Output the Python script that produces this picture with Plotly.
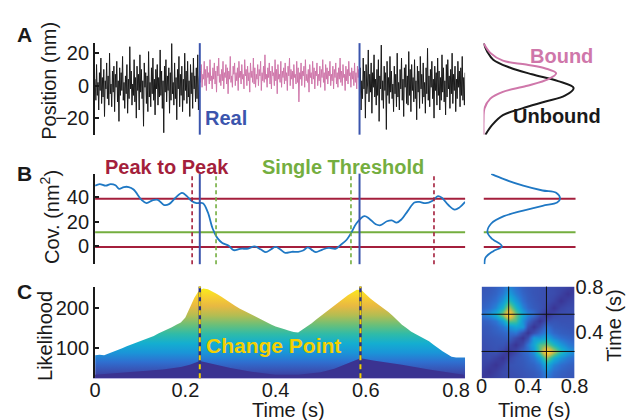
import plotly.graph_objects as go

W, H = 637, 420
FONT = "Liberation Sans, Arial, Helvetica, sans-serif"

# ---------------- Panel A: position trace (nm), sampled every pos_dt seconds
pos_dt = 0.82 / 512
pos_unbound_1 = [4, -9, 13, -6, 2, -15, 8, -3, 17, -11, 5, -7, 10, -19, 3, -2, 14, -8, 6, -12,
                 20, -5, 1, -13, 9, -4, 12, -16, 7, -1, 15, -10, 3, -22, 11, -6, 8, -3, 18, -9,
                 2, -14, 6, -5, 13, -17, 4, -8, 24, -2, 9, -12, 1, -6, 16, -10, 5, -20, 12, -3,
                 7, -15, 19, -4, 10, -8, 3, -25, 14, -1, 8, -11, 6, -16, 21, -7, 2, -13, 11, -5,
                 17, -9, 4, -18, 10, -2, 13, -12, 5, -7, 22, -6, 9, -14, 3, -29, 12, -4, 16, -10,
                 6, -3, 11, -17, 8, -9, 26, -5, 2, -12, 14, -8, 5, -21, 10, -2, 18, -13, 7, -6,
                 12, -16, 4, -9, 20, -3, 9, -11, 15, -7, 3, -19, 13, -5, 8, -14, 17, -2, 6, -10,
                 11, -8, 19, -15, 4]
pos_bound = [9, 2, 13, -1, 7, 4, 15, 0, 10, -3, 12, 5, 8, 1, 16, 3, 6, -2, 11, 4,
             14, 1, 9, -4, 12, 6, 17, 2, 7, 0, 10, 3, 15, -2, 8, 5, 13, 1, 11, -5,
             9, 4, 18, 2, 6, -1, 12, 7, 14, 0, 8, 3, 11, -3, 15, 5, 9, 1, 13, 4,
             7, -2, 16, 6, 10, 0, 12, 3, 8, -4, 14, 5, 9, 2, 17, 1, 11, -1, 7, 4,
             13, 0, 10, 6, 15, -3, 8, 3, 12, 2, 19, 4, 7, -1, 11, 5, 14, 1, 9, -2,
             12, 6, 8, 0, 16, 3, 10, -5, 13, 4, 7, 2, 15, -1, 9, 5, 11, 1, 14, 3,
             8, -3, 12, 6, 17, 0, 10, 4, 9, -2, 13, 5, 7, 1, 15, 2, 11, -10, 8, 4,
             14, 0, 9, 6, 12, -1, 16, 3, 7, 2, 10, -4, 13, 5, 8, 1, 15, 4, 11, -2,
             9, 6, 14, 0, 7, 3, 12, -1, 10, 5, 16, 2, 8, -3, 13, 4, 11, 1, 9, 6,
             15, 0, 7, 3, 12, -2, 10, 5, 14, 1, 8, -1, 11, 4, 17, 2, 9, 0, 13, 5,
             7, -3, 12, 3, 10, 1, 15, 6, 8, -1, 11, 4, 9, 0, 14, 2, 8, -2, 12, 5, 10]
pos_unbound_2 = [-6, 11, -15, 3, -8, 17, -2, 9, -20, 13, -5, 1, 22, -10, 7, -4, 14, -17, 8, -1,
                 19, -7, 4, -12, 10, -6, 16, -22, 6, -2, 25, -9, 3, -14, 12, -3, 8, -27, 15, -6,
                 5, -11, 18, -4, 9, -8, 1, -16, 12, -5, 7, -13, 20, -7, 2, -15, 10, -2, 17, -9,
                 4, -19, 11, -1, 13, -11, 6, -12, 21, -6, 10, -16, 13, -3, 5, -10, 16, -8, 3, -21,
                 12, -4, 9, -14, 18, -2, 7, -11, 14, -7, 2, -17, 11, -5, 23, -9, 6, -13, 10, -1,
                 15, -8, 4, -20, 12, -3, 8, -12, 17, -6, 9, -15, 5, -9, 19, -4, 11, -10, 3, -18,
                 13, -7, 16, -2, 6, -14, 10, -5, 20, -11, 7, -3, 12, -16, 4, -8, 15, -1, 9, -13,
                 11, -6, 18, -9, 5, -12, 8]
real_change_times = [0.232, 0.586]
pos_ticks = [-20, 0, 20]

# position distributions (right of panel A)
unbound_pos = [26.2, 20.8, 16.0, 11.2, 7.0, 2.8, -1.4, -6.2, -9.8, -14.0, -18.2, -24.2, -30.2]
unbound_dens = [0, 4, 10, 27, 50, 77, 93, 84, 64, 40, 20, 9, 2]
bound_pos = [26.2, 20.2, 15.4, 13.0, 10.6, 7.6, 4.0, -0.2, -3.8, -8.0, -14.0, -21.8, -30.2]
bound_dens = [0, 7, 20, 44, 64, 75, 67, 44, 20, 7, 1, 0, 0]

# ---------------- Panel B: covariance
cov_t = [0, 0.0101, 0.0236, 0.0343, 0.0451, 0.0530, 0.0638, 0.0745, 0.0852, 0.1030, 0.1138,
         0.1282, 0.1389, 0.1531, 0.1638, 0.1782, 0.1926, 0.2033, 0.2140, 0.2247, 0.2389, 0.2497,
         0.2604, 0.2711, 0.2819, 0.2962, 0.3070, 0.3213, 0.3392, 0.3535, 0.3677, 0.3785, 0.3892,
         0.3999, 0.4106, 0.4214, 0.4358, 0.4501, 0.4609, 0.4716, 0.4823, 0.4894, 0.5038, 0.5180,
         0.5323, 0.5431, 0.5575, 0.5682, 0.5789, 0.5968, 0.6075, 0.6219, 0.6326, 0.6468, 0.6575,
         0.6682, 0.6790, 0.6934, 0.7077, 0.7185, 0.7326, 0.7470, 0.7599, 0.7685, 0.7829, 0.7970,
         0.8078, 0.8200]
cov_val = [48.9, 50.2, 48.9, 50.2, 49.2, 46.3, 47.8, 47.8, 45.8, 37.4, 34.8,
           37.2, 37.4, 33.3, 34.0, 39.2, 43.1, 40.5, 36.6, 34.8, 34.8, 27.5,
           14.4, 6.6, 2.7, 0.5, -3.1, -2.0, -1.8, 0.0, -2.6, -4.7, -2.6,
           -0.5, -2.6, -5.2, -4.4, -4.4, -3.4, -0.8, -3.4, -4.7, -2.6, -1.3,
           -2.0, 0.8, 5.3, 11.3, 18.4, 24.3, 22.3, 17.8, 17.0, 20.2, 20.9,
           19.1, 21.7, 28.8, 35.3, 35.8, 34.8, 36.6, 40.5, 39.2, 33.3, 29.6,
           31.4, 35.8]
peak_levels = [38.4, -0.5]
single_threshold = 11.3
peak_cross_times = [0.215, 0.751]
threshold_cross_times = [0.268, 0.567]
cov_ticks = [0, 20, 40]

hist_cov = [58.4, 54.1, 48.9, 45.0, 43.1, 38.4, 35.3, 32.7, 28.8, 24.3, 18.4, 11.8, 6.6, 0.0, -3.9, -9.1, -14.4]
hist_count = [8, 21, 41, 61, 75, 79, 76, 61, 41, 21, 8, 4, 8, 19, 10, 2, 1]

# ---------------- Panel C: likelihood
lik_t = [i / 100 for i in range(83)]
lik_total = [82, 83, 82, 86, 90, 95, 99, 104, 108, 112, 117, 121, 126, 130, 136, 141, 145, 152, 158, 164,
             176, 200, 226, 244, 249, 247, 242, 235, 228, 220, 212, 206, 199, 193, 187, 181, 175, 169, 165, 159,
             154, 151, 147, 143, 140, 139, 146, 153, 162, 171, 180, 189, 197, 206, 215, 224, 232, 239, 246, 245,
             234, 224, 215, 207, 198, 190, 180, 168, 158, 150, 141, 135, 129, 124, 117, 108, 99, 92, 85, 78,
             76, 76, 76]
lik_low_t = [0, 0.05, 0.1, 0.15, 0.19, 0.21, 0.232, 0.26, 0.3, 0.35, 0.4, 0.45, 0.5, 0.53, 0.56, 0.588,
             0.62, 0.68, 0.74, 0.8, 0.817]
lik_low = [33, 37, 41, 46, 52, 58, 67, 60, 50, 40, 33, 33, 39, 48, 62, 74, 68, 58, 46, 36, 33]
change_point_times = [0.232, 0.588]
lik_ticks = [100, 200]
time_ticks = [0, 0.2, 0.4, 0.6, 0.8]

# change-point likelihood map (symmetric), triangle read by eye
hm_grid = [0, 0.06, 0.12, 0.18, 0.233, 0.29, 0.35, 0.40, 0.45, 0.50, 0.558, 0.62, 0.68, 0.74, 0.8]
hm_diag = 0.02
hm_tri = [
    [],
    [0.05],
    [0.07, 0.05],
    [0.08, 0.09, 0.06],
    [0.09, 0.10, 0.11, 0.07],
    [0.10, 0.11, 0.12, 0.12, 0.08],
    [0.11, 0.12, 0.13, 0.14, 0.16, 0.09],
    [0.12, 0.13, 0.15, 0.17, 0.20, 0.22, 0.10],
    [0.13, 0.14, 0.17, 0.22, 0.30, 0.36, 0.32, 0.10],
    [0.15, 0.17, 0.22, 0.34, 0.60, 0.55, 0.30, 0.18, 0.09],
    [0.22, 0.28, 0.40, 0.65, 1.00, 0.62, 0.38, 0.26, 0.20, 0.10],
    [0.16, 0.19, 0.26, 0.42, 0.72, 0.45, 0.26, 0.18, 0.14, 0.12, 0.08],
    [0.14, 0.16, 0.20, 0.30, 0.48, 0.32, 0.20, 0.15, 0.13, 0.11, 0.10, 0.07],
    [0.13, 0.14, 0.17, 0.23, 0.34, 0.24, 0.17, 0.14, 0.12, 0.11, 0.10, 0.09, 0.06],
    [0.12, 0.13, 0.15, 0.19, 0.26, 0.20, 0.15, 0.13, 0.12, 0.11, 0.10, 0.09, 0.08, 0.06],
]
hm_change = [0.233, 0.558]
hm_ticks_x = [0, 0.4, 0.8]
hm_ticks_y = [0.4, 0.8]

# ---------------- styles
BLACK = "#1a1a1a"
PINK = "#cf77aa"
REAL = "#3b55ad"
RED = "#a41f3c"
GREEN = "#74ae3f"
COVBLUE = "#1f78c4"
GOLD = "#f5d000"
NAVY = "#2c3280"
PARULA = [[0.0, "#3a2f8f"], [0.1, "#3a4fb0"], [0.2, "#2f6fd0"], [0.3, "#1a95d8"],
          [0.4, "#14aed0"], [0.5, "#2fbba8"], [0.6, "#6cbf78"], [0.7, "#b4bd52"],
          [0.8, "#e8b942"], [0.9, "#f8d030"], [1.0, "#f8f018"]]


def fx(px):
    return px / W


def fy(py):
    return 1 - py / H


fig = go.Figure()

# Panel A traces
n1, n2 = len(pos_unbound_1), len(pos_bound)
position = pos_unbound_1 + pos_bound + pos_unbound_2
t_pos = [i * pos_dt for i in range(len(position))]
fig.add_trace(go.Scatter(x=t_pos[:n1 + 1], y=position[:n1 + 1], mode="lines",
                         line=dict(color=BLACK, width=1), xaxis="x", yaxis="y"))
fig.add_trace(go.Scatter(x=t_pos[n1 + n2:], y=position[n1 + n2:], mode="lines",
                         line=dict(color=BLACK, width=1), xaxis="x", yaxis="y"))
fig.add_trace(go.Scatter(x=t_pos[n1:n1 + n2 + 1], y=position[n1:n1 + n2 + 1], mode="lines",
                         line=dict(color=PINK, width=1), xaxis="x", yaxis="y"))
fig.add_trace(go.Scatter(x=unbound_dens, y=unbound_pos, mode="lines", line_shape="spline",
                         line=dict(color=BLACK, width=2), xaxis="x2", yaxis="y2"))
fig.add_trace(go.Scatter(x=bound_dens, y=bound_pos, mode="lines", line_shape="spline",
                         line=dict(color=PINK, width=2), xaxis="x2", yaxis="y2"))

# Panel B traces
fig.add_trace(go.Scatter(x=cov_t, y=cov_val, mode="lines", line_shape="spline",
                         line=dict(color=COVBLUE, width=1.8), xaxis="x3", yaxis="y3"))
fig.add_trace(go.Scatter(x=hist_count, y=hist_cov, mode="lines", line_shape="spline",
                         line=dict(color=COVBLUE, width=1.8), xaxis="x4", yaxis="y4"))

# Panel C traces
fig.add_trace(go.Scatter(x=lik_t, y=lik_total, mode="lines", fill="tozeroy",
                         line=dict(width=0, color="rgba(0,0,0,0)"),
                         fillgradient=dict(type="vertical", colorscale=PARULA, start=24, stop=252),
                         xaxis="x5", yaxis="y5"))
fig.add_trace(go.Scatter(x=lik_low_t, y=lik_low, mode="lines", fill="tozeroy",
                         line=dict(width=0, color="rgba(0,0,0,0)"), fillcolor="#3b3391",
                         xaxis="x5", yaxis="y5"))
n = len(hm_grid)
hm_z = [[hm_diag if r == c else (hm_tri[r][c] if r > c else hm_tri[c][r]) for c in range(n)]
        for r in range(n)]
fig.add_trace(go.Heatmap(x=hm_grid, y=hm_grid, z=hm_z, zsmooth="best", colorscale=PARULA,
                         zmin=0, zmax=1, showscale=False, xaxis="x6", yaxis="y6"))

shapes = []
for t in real_change_times:
    shapes.append(dict(type="line", xref="x", yref="y domain", x0=t, x1=t, y0=0, y1=1,
                       line=dict(color=REAL, width=2)))
for lvl, col in [(peak_levels[0], RED), (peak_levels[1], RED), (single_threshold, GREEN)]:
    shapes.append(dict(type="line", xref="x3 domain", yref="y3", x0=0, x1=1, y0=lvl, y1=lvl,
                       line=dict(color=col, width=2), layer="below"))
    shapes.append(dict(type="line", xref="x4", yref="y4", x0=0, x1=95, y0=lvl, y1=lvl,
                       line=dict(color=col, width=2), layer="below"))
for t in peak_cross_times:
    shapes.append(dict(type="line", xref="x3", yref="y3 domain", x0=t, x1=t, y0=0, y1=1,
                       line=dict(color=RED, width=1.6, dash="4px,3px")))
for t in threshold_cross_times:
    shapes.append(dict(type="line", xref="x3", yref="y3 domain", x0=t, x1=t, y0=0, y1=1,
                       line=dict(color=GREEN, width=1.6, dash="4px,3px")))
for t in real_change_times:
    shapes.append(dict(type="line", xref="x3", yref="y3 domain", x0=t, x1=t, y0=0, y1=1,
                       line=dict(color=REAL, width=2)))
for t in change_point_times:
    shapes.append(dict(type="line", xref="x5", yref="y5 domain", x0=t, x1=t, y0=0, y1=1,
                       line=dict(color=NAVY, width=2.5)))
    shapes.append(dict(type="line", xref="x5", yref="y5 domain", x0=t, x1=t, y0=0, y1=1,
                       line=dict(color=GOLD, width=2, dash="5px,4px")))
for t in hm_change:
    shapes.append(dict(type="line", xref="x6", yref="y6 domain", x0=t, x1=t, y0=0, y1=1,
                       line=dict(color="#111111", width=1)))
    shapes.append(dict(type="line", xref="x6 domain", yref="y6", x0=0, x1=1, y0=t, y1=t,
                       line=dict(color="#111111", width=1)))


def ann(text, x, y, size=20, color=BLACK, bold=False, angle=0):
    return dict(text=("<b>%s</b>" % text) if bold else text, x=fx(x), y=fy(y),
                xref="paper", yref="paper", xanchor="center", yanchor="middle",
                showarrow=False, textangle=angle,
                font=dict(family=FONT, size=size, color=color))


annotations = [
    ann("A", 19, 24, 21, bold=True),
    ann("B", 19, 167, 21, bold=True),
    ann("C", 19, 288, 21, bold=True),
    ann("Position (nm)", 44, 72, 20, angle=-90),
    ann("Cov. (nm<sup>2</sup>)", 45, 212, 20, angle=-90),
    ann("Likelihood", 41, 334, 20, angle=-90),
    ann("Real", 227, 110, 20, REAL, bold=True),
    ann("Bound", 574, 46, 20, PINK, bold=True),
    ann("Unbound", 569, 108, 20, BLACK, bold=True),
    ann("Peak to Peak", 166, 160, 20, RED, bold=True),
    ann("Single Threshold", 348, 160, 20, GREEN, bold=True),
    ann("Change Point", 276, 343, 21, GOLD, bold=True),
    ann("Time (s)", 292, 410, 20),
    ann("Time (s)", 546, 410, 20),
    ann("Time (s)", 627, 323, 20, angle=-90),
]

tickfont = dict(family=FONT, size=20, color=BLACK)
XMAIN = [fx(92), fx(474)]
XRIGHT = [fx(493), fx(600)]
YA = [fy(127), fy(33)]
YB = [fy(260), fy(167)]
YC = [fy(377), fy(283)]
hidden = dict(visible=False, showgrid=False, zeroline=False)
yleft = dict(showgrid=False, zeroline=False, showline=True, linecolor=BLACK, linewidth=2,
             ticks="inside", ticklen=4, tickwidth=1.5, tickcolor=BLACK, tickfont=tickfont)

fig.update_layout(
    width=W, height=H, margin=dict(l=0, r=0, t=0, b=0),
    paper_bgcolor="white", plot_bgcolor="white", showlegend=False,
    font=dict(family=FONT, size=20, color=BLACK),
    xaxis=dict(domain=XMAIN, range=[0, 0.82], **hidden),
    yaxis=dict(domain=YA, range=[-30.2, 26.2], tickvals=pos_ticks, **yleft),
    xaxis2=dict(domain=XRIGHT, range=[0, 107], **hidden),
    yaxis2=dict(domain=YA, range=[-30.2, 26.2], anchor="x2", **hidden),
    xaxis3=dict(domain=XMAIN, range=[0, 0.82], anchor="y3", **hidden),
    yaxis3=dict(domain=YB, range=[-14.4, 58.6], tickvals=cov_ticks, anchor="x3", **yleft),
    xaxis4=dict(domain=XRIGHT, range=[0, 107], anchor="y4", **hidden),
    yaxis4=dict(domain=YB, range=[-14.4, 58.6], anchor="x4", **hidden),
    xaxis5=dict(domain=XMAIN, range=[0, 0.82], anchor="y5", showgrid=False, zeroline=False,
                tickvals=time_ticks, ticktext=["0", "0.2", "0.4", "0.6", "0.8"], ticks="",
                ticklabelstandoff=-6,
                showline=True, linecolor="#b9b3df", linewidth=1, tickfont=tickfont),
    yaxis5=dict(domain=YC, range=[24.4, 253.7], tickvals=lik_ticks, anchor="x5", **yleft),
    xaxis6=dict(domain=[fx(491), fx(587)], range=[0, 0.8], anchor="y6", showgrid=False,
                zeroline=False, tickvals=hm_ticks_x, ticktext=["0", "0.4", "0.8"], ticks="",
                ticklabelstandoff=-6, tickfont=tickfont),
    yaxis6=dict(domain=YC, range=[0, 0.8], anchor="x6", side="right", showgrid=False,
                zeroline=False, tickvals=hm_ticks_y, ticktext=["0.4", "0.8"], ticks="",
                tickfont=tickfont),
    shapes=shapes,
    annotations=annotations,
)

fig.write_html("out.html", config={"displayModeBar": False},
               post_script="document.body.style.margin='0px';document.body.style.overflow='hidden';")
